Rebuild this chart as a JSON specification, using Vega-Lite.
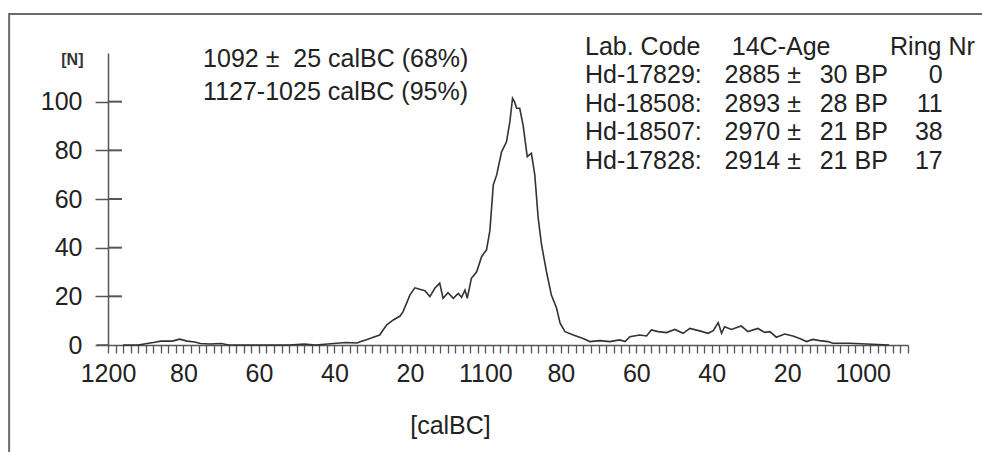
{
  "$schema": "https://vega.github.io/schema/vega-lite/v6.json",
  "autosize": {"type": "none"},
  "padding": {"left": 108, "top": 53, "right": 74, "bottom": 107},
  "width": 800,
  "height": 292,
  "background": "white",
  "config": {
    "view": {"stroke": null},
    "font": "Liberation Sans",
    "text": {"font": "Liberation Sans"}
  },
  "layer": [
    {
      "data": {"values": [
        {"year": 1196, "n": 0}, {"year": 1192, "n": 0}, {"year": 1190, "n": 0.5}, {"year": 1188, "n": 1},
        {"year": 1186, "n": 1.6}, {"year": 1183, "n": 1.6}, {"year": 1181, "n": 2.4}, {"year": 1179, "n": 1.6},
        {"year": 1177, "n": 1.2}, {"year": 1175.5, "n": 0.6}, {"year": 1173, "n": 0.4}, {"year": 1170, "n": 0.6},
        {"year": 1168, "n": 0}, {"year": 1160, "n": 0}, {"year": 1152, "n": 0}, {"year": 1148, "n": 0.4},
        {"year": 1145, "n": 0}, {"year": 1141, "n": 0.5}, {"year": 1137, "n": 1}, {"year": 1134, "n": 0.8},
        {"year": 1133, "n": 1.4}, {"year": 1131.5, "n": 2.2}, {"year": 1129.7, "n": 3.2}, {"year": 1128, "n": 4.1},
        {"year": 1126.2, "n": 8.2}, {"year": 1124.4, "n": 10.3}, {"year": 1122.6, "n": 11.9}, {"year": 1121.8, "n": 13.7},
        {"year": 1120, "n": 20.5}, {"year": 1118.7, "n": 23.5}, {"year": 1117.4, "n": 22.9}, {"year": 1116, "n": 22.3},
        {"year": 1114.7, "n": 19.9}, {"year": 1113.4, "n": 23.3}, {"year": 1112.1, "n": 25.4}, {"year": 1111.2, "n": 19.2},
        {"year": 1109.9, "n": 21.5}, {"year": 1108.5, "n": 19.2}, {"year": 1107.2, "n": 21.2}, {"year": 1106.3, "n": 19.6},
        {"year": 1105.4, "n": 22.6}, {"year": 1104.8, "n": 19.2}, {"year": 1103.7, "n": 27.4}, {"year": 1102.3, "n": 30.1},
        {"year": 1101, "n": 36.3}, {"year": 1100.1, "n": 38.3}, {"year": 1099.7, "n": 39}, {"year": 1098.8, "n": 47},
        {"year": 1097.9, "n": 65.8}, {"year": 1097, "n": 69.9}, {"year": 1095.7, "n": 79.4}, {"year": 1094.4, "n": 83.5},
        {"year": 1093.5, "n": 91.8}, {"year": 1092.8, "n": 101.4}, {"year": 1092.3, "n": 100}, {"year": 1091.7, "n": 97.3},
        {"year": 1090.9, "n": 97.3}, {"year": 1090, "n": 90.4}, {"year": 1088.9, "n": 77.4}, {"year": 1087.8, "n": 78.8},
        {"year": 1086.9, "n": 69.9}, {"year": 1086, "n": 52.1}, {"year": 1085.1, "n": 41.1}, {"year": 1083.8, "n": 30.1},
        {"year": 1082.5, "n": 20.5}, {"year": 1081.1, "n": 15}, {"year": 1080.2, "n": 9}, {"year": 1078.9, "n": 5.5},
        {"year": 1076.7, "n": 4.1}, {"year": 1074.1, "n": 2.7}, {"year": 1072.3, "n": 1.4}, {"year": 1069.7, "n": 1.8},
        {"year": 1067, "n": 1.4}, {"year": 1064.4, "n": 2.1}, {"year": 1063, "n": 1.4}, {"year": 1061.7, "n": 3.4},
        {"year": 1059.1, "n": 4.1}, {"year": 1057.3, "n": 3.7}, {"year": 1056, "n": 6.2}, {"year": 1054.2, "n": 5.5},
        {"year": 1052, "n": 5.1}, {"year": 1049.8, "n": 6.4}, {"year": 1047.6, "n": 4.8}, {"year": 1045.8, "n": 6.8},
        {"year": 1043.2, "n": 5.8}, {"year": 1041, "n": 4.8}, {"year": 1039.6, "n": 5.9}, {"year": 1038.3, "n": 9.2},
        {"year": 1037.4, "n": 4.8}, {"year": 1036.6, "n": 7.5}, {"year": 1034.8, "n": 6.4}, {"year": 1032.2, "n": 7.8},
        {"year": 1030.4, "n": 5.5}, {"year": 1027.8, "n": 6.8}, {"year": 1026, "n": 5.2}, {"year": 1024.6, "n": 5.5},
        {"year": 1022.9, "n": 3.2}, {"year": 1020.7, "n": 4.5}, {"year": 1018.5, "n": 3.7}, {"year": 1016.7, "n": 2.7},
        {"year": 1014.9, "n": 1.4}, {"year": 1013.2, "n": 2.3}, {"year": 1011.4, "n": 1.8}, {"year": 1009.2, "n": 1.4},
        {"year": 1007.9, "n": 0.7}, {"year": 1003.4, "n": 0.7}, {"year": 999, "n": 0.4}, {"year": 996, "n": 0.2},
        {"year": 993, "n": 0}
      ]},
      "mark": {"type": "line", "stroke": "#333333", "strokeWidth": 1.6},
      "encoding": {
        "x": {
          "field": "year", "type": "quantitative",
          "scale": {"domain": [988, 1200], "reverse": true, "nice": false, "zero": false},
          "axis": {
            "values": [1200,1198,1196,1194,1192,1190,1188,1186,1184,1182,1180,1178,1176,1174,1172,1170,1168,1166,1164,1162,1160,1158,1156,1154,1152,1150,1148,1146,1144,1142,1140,1138,1136,1134,1132,1130,1128,1126,1124,1122,1120,1118,1116,1114,1112,1110,1108,1106,1104,1102,1100,1098,1096,1094,1092,1090,1088,1086,1084,1082,1080,1078,1076,1074,1072,1070,1068,1066,1064,1062,1060,1058,1056,1054,1052,1050,1048,1046,1044,1042,1040,1038,1036,1034,1032,1030,1028,1026,1024,1022,1020,1018,1016,1014,1012,1010,1008,1006,1004,1002,1000,998,996,994,992,990,988],
            "tickCount": 300,
            "labelExpr": "datum.value % 100 === 0 ? format(datum.value, 'd') : (datum.value % 20 === 0 ? format(datum.value % 100, 'd') : '')",
            "ticks": true,
            "tickSize": 8,
            "tickColor": "#555555",
            "tickWidth": 1.3,
            "domainColor": "#555555",
            "domainWidth": 1.5,
            "grid": false,
            "labelPadding": 8,
            "labelFont": "Liberation Sans",
            "labelFontSize": 25,
            "labelColor": "#222222",
            "labelOverlap": false,
            "labelFlush": false,
            "labelBound": false,
            "title": "[calBC]",
            "titleFont": "Liberation Sans",
            "titleFontSize": 25,
            "titleFontWeight": "normal",
            "titleColor": "#222222",
            "titleAlign": "center",
            "titleBaseline": "alphabetic",
            "titleX": 342,
            "titleY": 88,
            "encode": {
              "ticks": {"update": {"y2": {"signal": "datum.value % 10 === 0 ? 8 : 4"}}},
              "labels": {"update": {
                "dy": {"signal": "datum.value % 100 === 0 ? 8 : 0"},
                "dx": {"signal": "datum.value === 1200 ? -7 : (datum.value % 100 === 0 ? -3 : 0)"}
              }}
            }
          }
        },
        "y": {
          "field": "n", "type": "quantitative",
          "scale": {"domain": [0, 120], "nice": false},
          "axis": {
            "values": [0, 20, 40, 60, 80, 100],
            "ticks": true,
            "tickSize": 13,
            "tickColor": "#555555",
            "tickWidth": 1.5,
            "domainColor": "#555555",
            "domainWidth": 1.5,
            "grid": false,
            "labelPadding": 13,
            "labelFont": "Liberation Sans",
            "labelFontSize": 25,
            "labelColor": "#222222",
            "labelOverlap": false,
            "labelFlush": false,
            "title": "[N]",
            "titleFont": "Liberation Sans",
            "titleFontSize": 16,
            "titleFontWeight": "bold",
            "titleColor": "#333333",
            "titleAngle": 0,
            "titleAlign": "right",
            "titleBaseline": "alphabetic",
            "titleX": -25,
            "titleY": 11,
            "encode": {"ticks": {"update": {"x2": {"value": 13}}}}
          }
        }
      }
    },
    {
      "data": {"values": [{"v": 20}, {"v": 40}, {"v": 60}, {"v": 80}, {"v": 100}]},
      "mark": {"type": "rule", "stroke": "#555555", "strokeWidth": 2},
      "encoding": {
        "x": {"datum": 1200, "type": "quantitative"},
        "x2": {"datum": 1196.3},
        "y": {"field": "v", "type": "quantitative", "title": "[N]"},
        "y2": {"field": "v"}
      }
    },
    {
      "data": {"values": [{}]},
      "mark": {"type": "rect", "fill": null, "stroke": "#6a6a6a", "strokeWidth": 2},
      "encoding": {
        "x": {"datum": 1226.2, "type": "quantitative"},
        "x2": {"datum": 800},
        "y": {"datum": 136.0, "type": "quantitative"},
        "y2": {"datum": -200}
      }
    },
    {
      "data": {"values": [{}]},
      "mark": {"type": "rule", "stroke": "#555555", "strokeWidth": 1.5},
      "encoding": {
        "x": {"datum": 1203, "type": "quantitative"},
        "x2": {"datum": 1200},
        "y": {"datum": 0, "type": "quantitative"}
      }
    },
    {
      "data": {"values": [{}]},
      "mark": {"type": "text", "align": "left", "baseline": "alphabetic", "fontSize": 25, "color": "#222", "lineBreak": "\n", "lineHeight": 33,
        "text": "1092 ±\u00a0\u00a025 calBC (68%)\n1127-1025 calBC (95%)"},
      "encoding": {"x": {"datum": 1174.8, "type": "quantitative"}, "y": {"datum": 114.2, "type": "quantitative"}}
    },
    {
      "data": {"values": [{}]},
      "mark": {"type": "text", "align": "left", "baseline": "alphabetic", "fontSize": 25, "color": "#222", "lineBreak": "\n", "lineHeight": 28.5,
        "text": "Lab. Code\nHd-17829:\nHd-18508:\nHd-18507:\nHd-17828:"},
      "encoding": {"x": {"datum": 1073.6, "type": "quantitative"}, "y": {"datum": 119.2, "type": "quantitative"}}
    },
    {
      "data": {"values": [{}]},
      "mark": {"type": "text", "align": "left", "baseline": "alphabetic", "fontSize": 25, "color": "#222", "text": "14C-Age"},
      "encoding": {"x": {"datum": 1034.7, "type": "quantitative"}, "y": {"datum": 119.2, "type": "quantitative"}}
    },
    {
      "data": {"values": [{}]},
      "mark": {"type": "text", "align": "left", "baseline": "alphabetic", "fontSize": 25, "color": "#222", "lineBreak": "\n", "lineHeight": 28.5,
        "text": "2885 ±\n2893 ±\n2970 ±\n2914 ±"},
      "encoding": {"x": {"datum": 1036.6, "type": "quantitative"}, "y": {"datum": 107.5, "type": "quantitative"}}
    },
    {
      "data": {"values": [{}]},
      "mark": {"type": "text", "align": "left", "baseline": "alphabetic", "fontSize": 25, "color": "#222", "lineBreak": "\n", "lineHeight": 28.5,
        "text": "30 BP\n28 BP\n21 BP\n21 BP"},
      "encoding": {"x": {"datum": 1011.4, "type": "quantitative"}, "y": {"datum": 107.5, "type": "quantitative"}}
    },
    {
      "data": {"values": [{}]},
      "mark": {"type": "text", "align": "right", "baseline": "alphabetic", "fontSize": 25, "color": "#222", "text": "Ring Nr"},
      "encoding": {"x": {"datum": 970.3, "type": "quantitative"}, "y": {"datum": 119.2, "type": "quantitative"}}
    },
    {
      "data": {"values": [{}]},
      "mark": {"type": "text", "align": "right", "baseline": "alphabetic", "fontSize": 25, "color": "#222", "lineBreak": "\n", "lineHeight": 28.5,
        "text": "0\n11\n38\n17"},
      "encoding": {"x": {"datum": 978.8, "type": "quantitative"}, "y": {"datum": 107.5, "type": "quantitative"}}
    }
  ]
}
